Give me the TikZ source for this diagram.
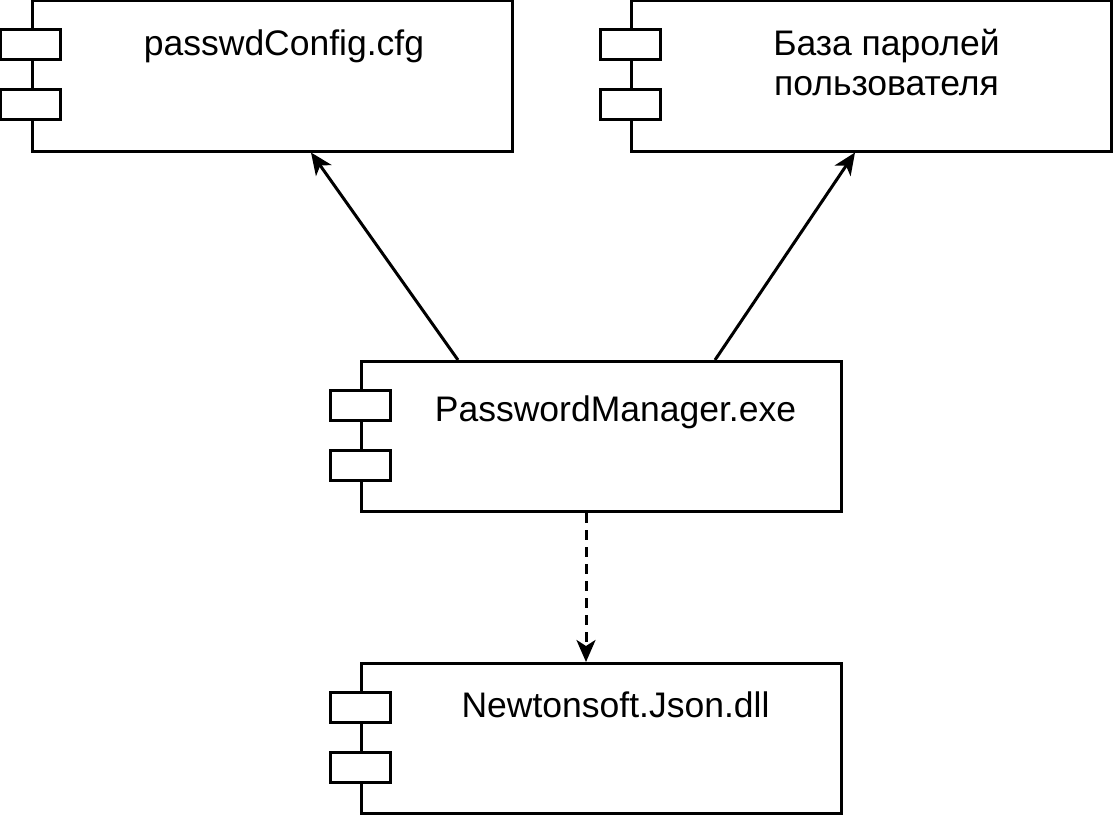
\documentclass[tikz,border=0pt]{standalone}
\usepackage{fontspec}
\setmainfont{Liberation Sans}
\usetikzlibrary{positioning,arrows.meta}
\tikzset{>={Stealth[length=22pt,width=19pt,inset=6pt]}}
\tikzset{comp/.style={draw,line width=3pt,fill=white,rectangle,minimum width=480pt,minimum height=150pt,inner sep=0pt}}
\tikzset{comptab/.style={draw,line width=3pt,fill=white}}
\tikzset{complabel/.style={anchor=base,inner sep=0pt,align=center,font=\fontsize{35.5}{40}\selectfont}}
\tikzset{assoc/.style={line width=3pt,->}}
\tikzset{usedep/.style={line width=3pt,->,dash pattern=on 10pt off 7pt}}

\begin{document}
\begin{tikzpicture}[x=1pt,y=1pt]
    \useasboundingbox (0,0) rectangle (1113,-816);
    % components
    \node[comp] (cfg) at (272,-76) {};
    \node[comp] (db) at (871.5,-76) {};
    \node[comp] (pm) at (601.5,-436.5) {};
    \node[comp] (json) at (601.5,-738.5) {};
    \foreach \c in {cfg,db,pm,json}{
        \foreach \dy in {30,90}
            \draw[comptab] ([xshift=-30pt,yshift=-\dy pt]\c.north west) rectangle ++(60,-30);
    }
    \node[complabel] (cfgtext) at ([xshift=12pt,yshift=-56.5pt]cfg.north) {passwdConfig.cfg};
    \node[complabel] (dbtext) at ([xshift=15pt,yshift=-96pt]db.north) {База паролей\\пользователя};
    \node[complabel] (pmtext) at ([xshift=14pt,yshift=-61pt]pm.north) {PasswordManager.exe};
    \node[complabel] (jsontext) at ([xshift=14pt,yshift=-55pt]json.north) {Newtonsoft.Json.dll};
    % connectors
    \draw[assoc] ([xshift=-143.5pt]pm.north) -- ([xshift=39pt]cfg.south);
    \draw[assoc] ([xshift=113.5pt]pm.north) -- ([xshift=-16.5pt]db.south);
    \draw[usedep] ([xshift=-15.5pt]pm.south) -- ([xshift=-15.5pt]json.north);
\end{tikzpicture}
\end{document}
